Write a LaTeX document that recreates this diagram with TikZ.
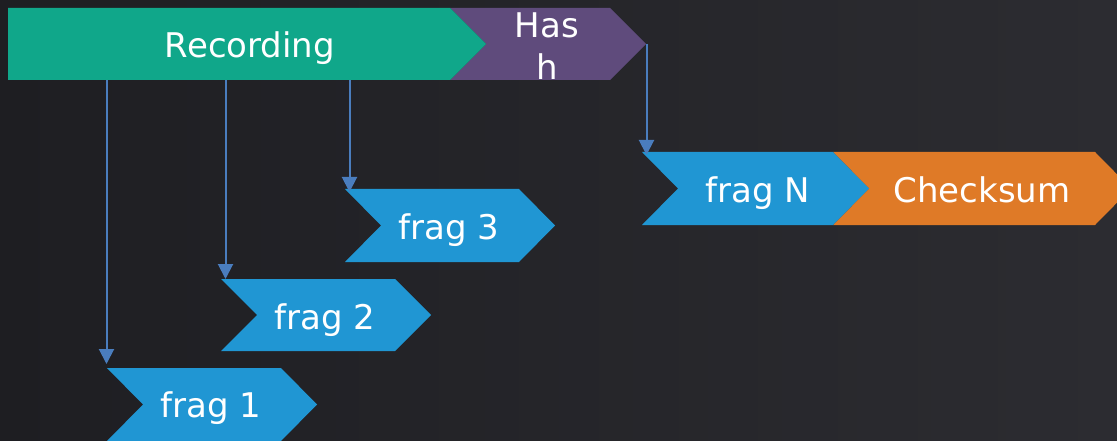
\documentclass[tikz,border=0pt]{standalone}
\usepackage{fontspec}
\setmainfont{DejaVu Sans}
\usetikzlibrary{arrows.meta}
\definecolor{bgA}{HTML}{1E1E22}
\definecolor{bgB}{HTML}{2C2C31}
\definecolor{recC}{HTML}{10A78A}
\definecolor{hashC}{HTML}{5F4B7C}
\definecolor{fragC}{HTML}{2096D3}
\definecolor{sumC}{HTML}{DF7A27}
\definecolor{lineC}{HTML}{4A7DBE}
\newcommand\chevshape[6]{% fill, x0, xcorner, top, bottom, notch(0/1)
  \fill[#1] (#2,#4) -- (#3,#4) -- ({#3+36},{(#4+#5)/2}) -- (#3,#5) -- (#2,#5)
    \ifnum#6=1 -- ({#2+36},{(#4+#5)/2}) \fi -- cycle;}
\begin{document}
\begin{tikzpicture}[x=1pt,y=-1pt,
  lbl/.style={text=white,font=\fontsize{34}{42}\selectfont,anchor=base,inner sep=0pt},
  conn/.style={draw=lineC,line width=2pt,-{Triangle[width=15pt,length=15pt]}}]
\useasboundingbox (0,0) rectangle (1117,441);
\shade[left color=bgA,right color=bgB] (0,0) rectangle (1117,441);
% shapes
\chevshape{hashC}{450}{610}{8}{80}{1}
\chevshape{recC}{8}{450}{8}{80}{0}
\chevshape{fragC}{345}{519}{189}{262}{1}
\chevshape{fragC}{221}{395}{279}{351}{1}
\chevshape{fragC}{107}{281}{368}{441}{1}
\chevshape{sumC}{833}{1095}{152}{225}{1}
\chevshape{fragC}{642}{833}{152}{225}{1}
% labels
\node[lbl] (rec) at (250,58) {Recording};
\node[lbl,align=center,anchor=north] (hash) at (547,13) {Has\\h};
\node[lbl] (f3) at (449,240) {frag 3};
\node[lbl] (f2) at (325,329) {frag 2};
\node[lbl] (f1) at (211,417) {frag 1};
\node[lbl] (fN) at (758,202.5) {frag N};
\node[lbl] (sum) at (982,202.5) {Checksum};
% connector ends
\coordinate (r1) at (106.5,80);
\coordinate (r2) at (225.5,80);
\coordinate (r3) at (349.5,80);
\coordinate (hT) at (646.5,44);
\coordinate (t1) at (106.5,364);
\coordinate (t2) at (225.5,279);
\coordinate (t3) at (349.5,192);
\coordinate (tN) at (646.5,155);
\draw[conn] (r1) -- (t1);
\draw[conn] (r2) -- (t2);
\draw[conn] (r3) -- (t3);
\draw[conn] (hT) -- (tN);
\end{tikzpicture}
\end{document}
